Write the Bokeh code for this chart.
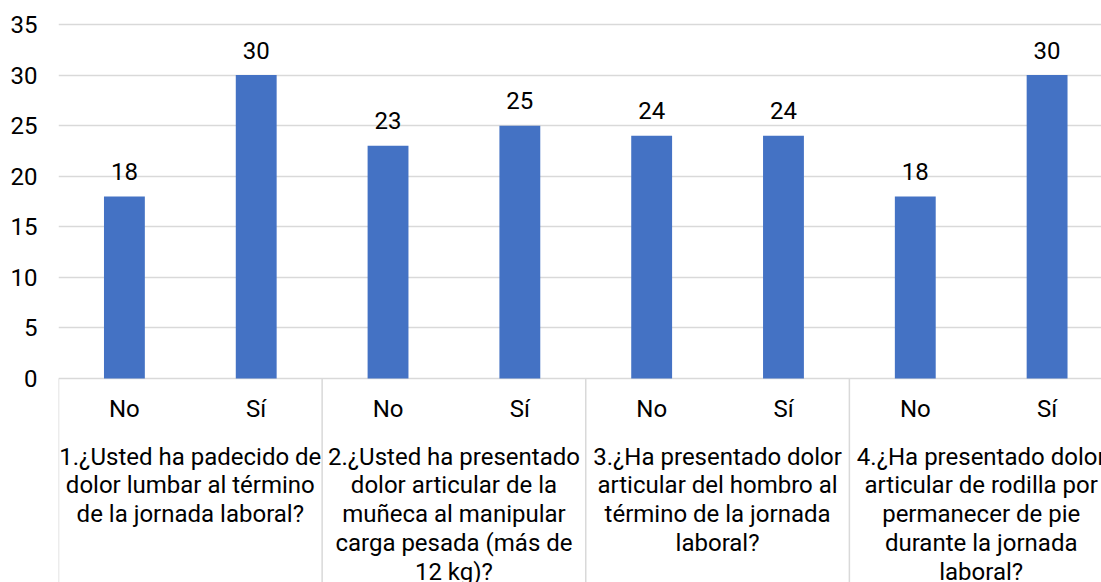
from bokeh.plotting import figure
from bokeh.models import ColumnDataSource, FixedTicker, Range1d
from bokeh.core.properties import value
from bokeh.embed import file_html
from bokeh.resources import INLINE

# ---- data ----
groups = [
    "1.¿Usted ha padecido de\ndolor lumbar al término\nde la jornada laboral?",
    "2.¿Usted ha presentado\ndolor articular de la\nmuñeca al manipular\ncarga pesada (más de\n12 kg)?",
    "3.¿Ha presentado dolor\narticular del hombro al\ntérmino de la jornada\nlaboral?",
    "4.¿Ha presentado dolor\narticular de rodilla por\npermanecer de pie\ndurante la jornada\nlaboral?",
]
answers = ["No", "Sí"]
counts = [18, 30, 23, 25, 24, 24, 18, 30]
y_ticks = [0, 5, 10, 15, 20, 25, 30, 35]

# ---- layout constants ----
FONT = value("Roboto")
FS = "24px"
TXT = "#000000"
GRID = "#d9d9d9"
BAR = "#4472C4"
px_per_unit = (378 - 24) / 35.0
n_slots = len(groups) * len(answers)
slot_px = 131.75
frame_w = 1101 - 58.5
x_end = frame_w / slot_px
y_top = 35 + 24 / px_per_unit
y_bot = -(582 - 378) / px_per_unit

p = figure(width=1101, height=582, output_backend="svg", toolbar_location=None,
           x_range=Range1d(0, x_end), y_range=Range1d(y_bot, y_top),
           min_border_left=58, min_border_right=0, min_border_top=0, min_border_bottom=0)
p.outline_line_color = None
p.background_fill_color = "white"
p.border_fill_color = "white"
p.xaxis.visible = False
p.xgrid.visible = False
p.ygrid.ticker = FixedTicker(ticks=y_ticks)
p.ygrid.grid_line_color = GRID
p.ygrid.grid_line_width = 1.3
p.yaxis.ticker = FixedTicker(ticks=y_ticks)
p.yaxis.axis_line_color = None
p.yaxis.major_tick_line_color = None
p.yaxis.minor_tick_line_color = None
p.yaxis.major_tick_out = 0
p.yaxis.major_label_standoff = 21
p.yaxis.major_label_text_font = "Roboto"
p.yaxis.major_label_text_font_size = FS
p.yaxis.major_label_text_color = TXT

centers = [i + 0.5 for i in range(n_slots)]
sub_labels = [a for _ in groups for a in answers]

bars = ColumnDataSource(dict(x=centers, top=counts, lab=[str(c) for c in counts]))
p.vbar(x="x", top="top", bottom=0, width=0.31, source=bars, fill_color=BAR, line_color=None)
p.text(x="x", y="top", text="lab", source=bars, text_align="center", text_baseline="alphabetic",
       y_offset=-25, text_font=FONT, text_font_size=FS, text_color=TXT)

# separators
sep_x = [len(answers) * g for g in range(len(groups))]
p.segment(x0=sep_x, y0=[0] * len(sep_x), x1=sep_x, y1=[y_bot] * len(sep_x),
          line_color=GRID, line_width=1.5)

# sub-category labels
sub = ColumnDataSource(dict(x=centers, y=[0] * n_slots, t=sub_labels))
p.text(x="x", y="y", text="t", source=sub, text_align="center", text_baseline="alphabetic",
       y_offset=30.7, text_font=FONT, text_font_size=FS, text_color=TXT)

# group labels (line by line)
gx, gt, goff = [], [], []
for g, lab in enumerate(groups):
    cx = len(answers) * g + len(answers) / 2
    for k, line in enumerate(lab.split("\n")):
        gx.append(cx)
        gt.append(line)
        goff.append(78 + 28.8 * k)
grp = ColumnDataSource(dict(x=gx, y=[0] * len(gx), t=gt, off=goff))
p.text(x="x", y="y", text="t", y_offset="off", source=grp, text_align="center",
       text_baseline="alphabetic", text_font=FONT, text_font_size=FS, text_color=TXT)

open("out.html", "w").write(file_html(p, INLINE))
